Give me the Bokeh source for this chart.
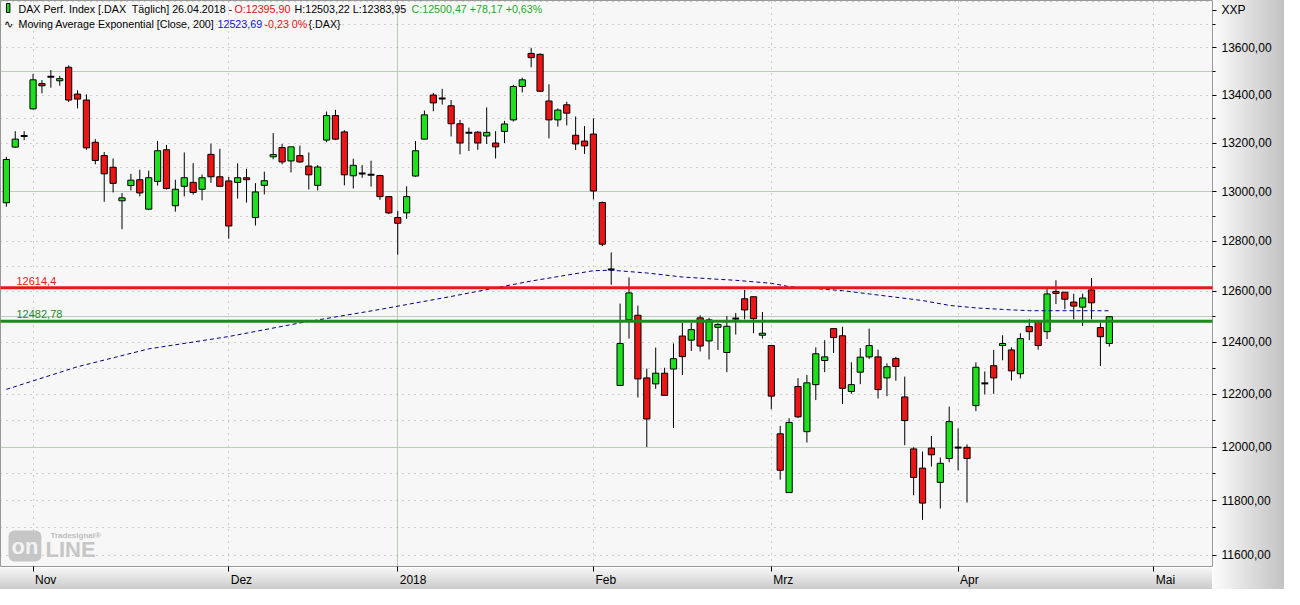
import numpy as np
import pandas as pd
from bokeh.plotting import figure
from bokeh.models import (Range1d, FixedTicker, Grid, Label, ColumnDataSource,
                          CustomJSTickFormatter)
from bokeh.embed import file_html
from bokeh.resources import INLINE

# ---------------- data ----------------
holidays = ["2017-10-31", "2017-12-25", "2017-12-26", "2018-01-01", "2018-03-30", "2018-04-02"]
dates = pd.bdate_range("2017-10-26", "2018-04-26")
dates = dates[~dates.isin(pd.to_datetime(holidays))]

open_ = [12955, 13183, 13229, 13342, 13448, 13477, 13460, 13517, 13404, 13379,
         13203, 13148, 13100, 12963, 13025, 13049, 12929, 13042, 13172, 12943,
         13022, 13038, 13010, 13153, 13061, 13044, 13038, 13057, 12895, 13026,
         13143, 13181, 13126, 13148, 13105, 13026, 13212, 13314, 13246, 13065,
         13074, 13069, 13066, 12980, 12895, 12914, 13064, 13216, 13400, 13385,
         13355, 13280, 13243, 13245, 13229, 13200, 13248, 13296, 13436, 13576,
         13572, 13375, 13296, 13359, 13232, 13208, 13237, 12956, 12687, 12234,
         12488, 12506, 12263, 12240, 12281, 12297, 12425, 12409, 12496, 12406,
         12459, 12361, 12493, 12571, 12579, 12428, 12388, 12050, 11830, 12230,
         12058, 12237, 12330, 12454, 12426, 12211, 12285, 12344, 12344, 12263,
         12338, 12190, 11993, 11921, 11996, 11868, 11957, 11998, 11999, 12157,
         12242, 12310, 12388, 12371, 12279, 12462, 12483, 12442, 12600, 12597,
         12558, 12538, 12606, 12458, 12395.90]
high = [13143, 13249, 13249, 13489, 13463, 13505, 13481, 13525, 13420, 13403,
        13216, 13163, 13136, 12995, 13073, 13090, 13086, 13208, 13192, 13049,
        13161, 13117, 13070, 13197, 13176, 13060, 13116, 13094, 13035, 13082,
        13241, 13196, 13184, 13189, 13161, 13109, 13331, 13338, 13253, 13135,
        13109, 13127, 13069, 12980, 12922, 13022, 13208, 13335, 13409, 13426,
        13379, 13296, 13264, 13249, 13348, 13249, 13292, 13443, 13473, 13600,
        13576, 13445, 13344, 13372, 13310, 13270, 13303, 12960, 12755, 12552,
        12655, 12544, 12299, 12380, 12302, 12396, 12477, 12477, 12506, 12496,
        12475, 12503, 12515, 12606, 12579, 12519, 12388, 12080, 12109, 12262,
        12274, 12381, 12409, 12454, 12461, 12323, 12378, 12454, 12372, 12319,
        12344, 12268, 11999, 11983, 12042, 11961, 12153, 12070, 12010, 12323,
        12288, 12371, 12428, 12381, 12436, 12490, 12483, 12609, 12644, 12597,
        12591, 12591, 12653, 12477, 12503.22]
low = [12939, 13180, 13212, 13340, 13407, 13431, 13439, 13371, 13344, 13172,
       13112, 12959, 12997, 12848, 13005, 12981, 12925, 13025, 13009, 12919,
       12981, 12988, 12965, 13036, 13022, 12810, 12972, 12956, 12863, 12989,
       13133, 13112, 13079, 13118, 13009, 13005, 13203, 13212, 13026, 13013,
       13057, 13021, 12967, 12909, 12746, 12890, 13061, 13216, 13332, 13360,
       13227, 13153, 13167, 13172, 13196, 13136, 13200, 13289, 13411, 13517,
       13413, 13219, 13268, 13273, 13171, 13155, 12969, 12780, 12626, 12234,
       12415, 12188, 12000, 12221, 12196, 12072, 12274, 12367, 12365, 12334,
       12371, 12285, 12431, 12490, 12436, 12415, 12143, 11878, 11830, 12110,
       12017, 12178, 12285, 12359, 12163, 12202, 12239, 12336, 12184, 12193,
       12252, 12007, 11820, 11729, 11927, 11771, 11943, 11913, 11793, 12136,
       12200, 12202, 12331, 12253, 12261, 12409, 12372, 12413, 12550, 12530,
       12490, 12464, 12490, 12309, 12383.95]
close = [13132, 13216, 13229, 13464, 13439, 13477, 13469, 13379, 13383, 13180,
         13128, 13073, 13034, 12975, 13047, 12995, 13057, 13168, 13013, 13010,
         13057, 12997, 13057, 13061, 13022, 12861, 13057, 13049, 12999, 13045,
         13152, 13122, 13184, 13122, 13069, 13101, 13314, 13216, 13069, 13108,
         13074, 13069, 12980, 12914, 12872, 12980, 13168, 13317, 13367, 13385,
         13280, 13200, 13243, 13200, 13244, 13184, 13279, 13436, 13464, 13558,
         13416, 13296, 13337, 13324, 13196, 13188, 13003, 12788, 12687, 12396,
         12594, 12259, 12106, 12281, 12196, 12337, 12345, 12450, 12386, 12488,
         12470, 12463, 12493, 12527, 12493, 12436, 12193, 11913, 12093, 12114,
         12244, 12356, 12344, 12419, 12223, 12237, 12343, 12388, 12218, 12306,
         12307, 12100, 11886, 11791, 11971, 11939, 12096, 11998, 11957, 12304,
         12242, 12263, 12396, 12290, 12415, 12442, 12388, 12590, 12592, 12569,
         12542, 12574, 12555, 12422.30, 12500.47]

# month axis
month_labels = ["Nov", "Dez", "2018", "Feb", "Mrz", "Apr", "Mai"]
month_pos = [3, 25, 44, 66, 86, 107, 129]

# exponential moving average (200), read at several points
ema_pos = [0, 8, 16, 25, 33, 42, 50, 59, 66, 68, 72, 76, 80, 82, 86, 88, 94, 97,
           103, 106, 109, 112, 115, 122, 124]
ema_val = [12219, 12306, 12375, 12423, 12476, 12529, 12580, 12641, 12682, 12684,
           12673, 12657, 12648, 12644, 12632, 12619, 12603, 12590, 12564, 12545,
           12535, 12529, 12524, 12524, 12523.69]

resistance = 12614.4
support = 12482.78
price_ticks = list(range(11600, 13601, 200))
axis_title = "XXP"

# ---------------- figure ----------------
FONT = "Liberation Sans"
W, H = 1284, 589
RIGHT, BOTTOM = 72, 21
FRAME_H = H - BOTTOM
FRAME_W = W - RIGHT
X0, X1 = -0.66, 135.6
Y0, Y1 = 11559, 13803
PX_PER_UNIT = FRAME_W / (X1 - X0)

p = figure(width=W, height=H, x_range=Range1d(X0, X1),
           y_range=Range1d(Y0, Y1), y_axis_type="log",
           y_axis_location="right", output_backend="svg", toolbar_location=None,
           min_border_left=0, min_border_top=0, min_border_right=RIGHT,
           min_border_bottom=BOTTOM)
p.background_fill_color = "#f7f7f7"
p.border_fill_color = None
p.outline_line_color = "#999999"
p.outline_line_width = 1
p.styles = {"background": "linear-gradient(to right, #fcfcfc, #c2c2c2) right top / 72px 100% no-repeat, "
                          "linear-gradient(to bottom, #f6f6f6, #cbcbcb) left bottom / 100% 21px no-repeat"}

p.xgrid.visible = False
p.ygrid.visible = False

# grids
dotted = dict(grid_line_color="#a4a4a4", grid_line_dash="1 5", grid_line_width=1)
solid = dict(grid_line_color="#bccbbc", grid_line_width=1)
x_dot = [m for m, l in zip(month_pos, month_labels) if l != "2018"]
x_sol = [m for m, l in zip(month_pos, month_labels) if l == "2018"]
y_all = list(range(11600, 13801, 100))
y_sol = [v for v in y_all if v % 500 == 0]
y_dot = [v for v in y_all if v % 500 != 0]
p.add_layout(Grid(dimension=0, ticker=FixedTicker(ticks=x_dot), **dotted))
p.add_layout(Grid(dimension=0, ticker=FixedTicker(ticks=x_sol), **solid))
p.add_layout(Grid(dimension=1, ticker=FixedTicker(ticks=y_dot), **dotted))
p.add_layout(Grid(dimension=1, ticker=FixedTicker(ticks=y_sol), **solid))

# right (price) axis; the top slot carries the "XXP" caption
title_pos = Y0 * (Y1 / Y0) ** ((FRAME_H - 10) / FRAME_H)
ya = p.yaxis[0]
ya.ticker = FixedTicker(ticks=price_ticks + [title_pos],
                        minor_ticks=list(range(11600, 13701, 100)))
ya.formatter = CustomJSTickFormatter(
    args=dict(tp=title_pos, tt=axis_title),
    code="if (Math.abs(tick - tp) < 1) return tt; return tick.toFixed(2).replace('.', ',');")
ya.axis_line_color = None
ya.major_tick_in = 0
ya.major_tick_out = 4
ya.minor_tick_in = 0
ya.minor_tick_out = 3
ya.major_tick_line_color = "black"
ya.minor_tick_line_color = "black"
ya.major_label_standoff = 5
ya.major_label_text_font = FONT
ya.major_label_text_font_size = "12px"
ya.major_label_text_color = "black"

# bottom (month) axis: minor ticks mark month starts, labels sit right of them
label_w = [21.3, 21.3, 26.7, 20.7, 20.0, 18.7, 19.3]
label_c = [m + (2 + w / 2) / PX_PER_UNIT for m, w in zip(month_pos, label_w)]
xa = p.xaxis[0]
xa.ticker = FixedTicker(ticks=label_c, minor_ticks=month_pos)
xa.formatter = CustomJSTickFormatter(
    args=dict(pos=label_c, labels=month_labels),
    code="for (let i = 0; i < pos.length; i++) { if (Math.abs(tick - pos[i]) < 1e-6) return labels[i]; } return '';")
xa.axis_line_color = None
xa.major_tick_in = 0
xa.major_tick_out = 5
xa.major_tick_line_color = None
xa.minor_tick_in = 0
xa.minor_tick_out = 5
xa.minor_tick_line_color = "black"
xa.major_label_standoff = 1
xa.major_label_text_font = FONT
xa.major_label_text_font_size = "12px"
xa.major_label_text_color = "black"

# candles
o = np.array(open_, dtype=float)
c = np.array(close, dtype=float)
hi = np.array(high, dtype=float)
lo = np.array(low, dtype=float)
idx = np.arange(len(c))
src = ColumnDataSource(dict(x=idx, o=o, c=c, h=hi, l=lo))
p.segment(x0="x", y0="l", x1="x", y1="h", source=src, line_color="black", line_width=1)

up = c > o
dn = c < o
dj = c == o
p.vbar(x=idx[up], width=0.7, top=c[up], bottom=o[up], fill_color="#1fe01f",
       line_color="black", line_width=1)
p.vbar(x=idx[dn], width=0.7, top=o[dn], bottom=c[dn], fill_color="#ec1515",
       line_color="black", line_width=1)
p.segment(x0=idx[dj] - 0.38, x1=idx[dj] + 0.38, y0=c[dj], y1=c[dj],
          line_color="black", line_width=2)

# EMA
p.line(ema_pos, ema_val, line_color="#000080", line_dash="4 3", line_width=1)

# horizontal levels
p.line([-1, 137], [resistance, resistance], line_color="#e41a1a", line_width=3)
p.line([-1, 137], [support, support], line_color="#1c8a1c", line_width=3)

lab = dict(text_font=FONT, text_font_size="11px")
p.add_layout(Label(x=16, y=resistance, x_units="screen", y_units="data",
                   text=f"{resistance}".replace(".", ","), text_color="#e41a1a",
                   text_baseline="bottom", y_offset=3, **lab))
p.add_layout(Label(x=16, y=support, x_units="screen", y_units="data",
                   text=f"{support}".replace(".", ","), text_color="#1c8a1c",
                   text_baseline="bottom", y_offset=3, **lab))

# header lines
hlab = dict(text_font=FONT, text_font_size="10.7px")
y1 = FRAME_H - 10
y2 = FRAME_H - 25
hdr = [
    (18, y1, "DAX Perf. Index [.DAX\u00a0 Täglich] 26.04.2018 -", "black"),
    (234, y1, "O:12395,90", "#e01010"),
    (294, y1, "H:12503,22 L:12383,95", "black"),
    (411, y1, "C:12500,47 +78,17 +0,63%", "#1fa81f"),
    (3, y2, "∿", "black"),
    (18, y2, "Moving Average Exponential [Close, 200]", "black"),
    (217, y2, "12523,69", "#1010d0"),
    (264, y2, "-0,23 0%", "#e01010"),
    (308, y2, "{.DAX}", "black"),
]
for hx, hy, t, col in hdr:
    p.add_layout(Label(x=hx, y=hy, x_units="screen", y_units="screen", text=t,
                       text_color=col, text_baseline="middle", **hlab))
# candle icon
p.add_layout(Label(x=6, y=y1 - 4, x_units="screen", y_units="screen", text="\u2009",
                   text_font_size="7px", background_fill_color="#1fe01f",
                   border_line_color="black", padding=1))

# watermark logo
p.add_layout(Label(x=8, y=5, x_units="screen", y_units="screen", text="on",
                   text_font=FONT, text_font_size="22px", text_font_style="bold",
                   text_color="#f2f2f2", background_fill_color="#c6c6c6",
                   border_radius=6, padding=3))
p.add_layout(Label(x=45, y=5, x_units="screen", y_units="screen", text="LINE",
                   text_font=FONT, text_font_size="22px", text_font_style="bold",
                   text_color="#c6c6c6"))
p.add_layout(Label(x=50, y=27, x_units="screen", y_units="screen", text="Tradesignal®",
                   text_font=FONT, text_font_size="8px", text_font_style="bold",
                   text_color="#bdbdbd"))

open("out.html", "w").write(file_html(p, INLINE))
